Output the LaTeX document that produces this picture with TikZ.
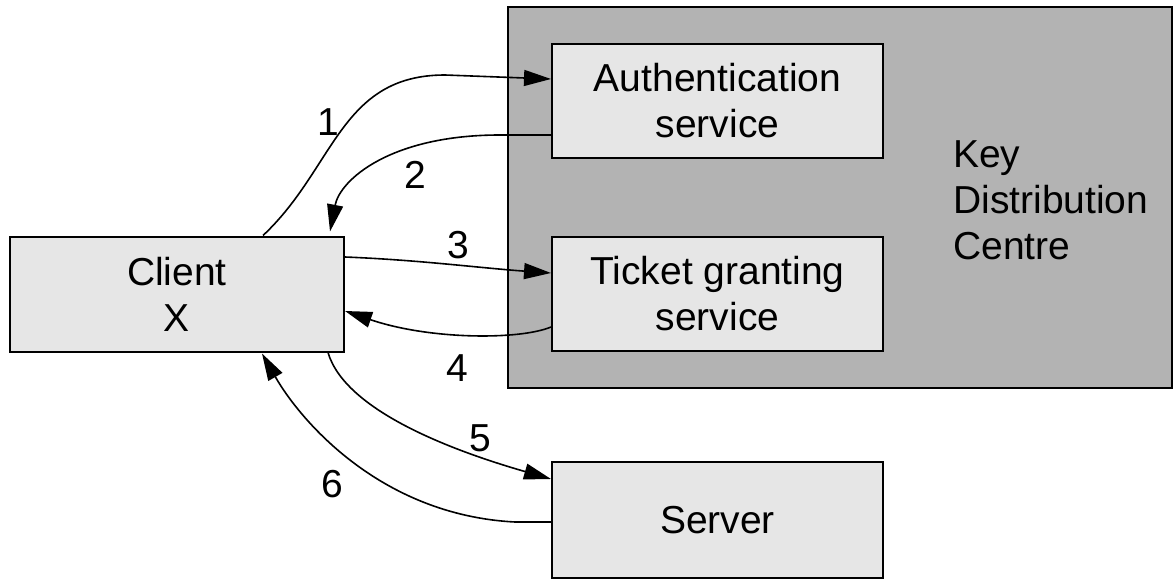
\documentclass[tikz,border=0pt]{standalone}
\usepackage{fontspec}
\setmainfont{Liberation Sans}
\usetikzlibrary{arrows.meta}
\begin{document}
\begin{tikzpicture}[x=1pt,y=-1pt,
  lbl/.style={font=\fontsize{39}{46}\selectfont, align=center, inner sep=0pt},
  svcbox/.style={draw=black, line width=2pt, fill=boxgray, minimum width=331pt, minimum height=114pt, lbl},
  kdcbox/.style={draw=black, line width=2pt, fill=kdcgray},
  msg/.style={draw=black, line width=1.6pt, -{Triangle[length=27pt,width=16pt]}},
  num/.style={font=\fontsize{39}{46}\selectfont, inner sep=0pt}]
\definecolor{boxgray}{RGB}{230,230,230}
\definecolor{kdcgray}{RGB}{179,179,179}
\useasboundingbox (0,0) rectangle (1174,580);

% Key Distribution Centre and its two services
\node[kdcbox, minimum width=664pt, minimum height=381pt] (kdc) at (840,197.5) {};
\node[lbl, align=left, anchor=west] (kdclabel) at (953,200) {Key\\ Distribution\\ Centre};
\node[svcbox] (auth) at (717.5,101) {Authentication\\service};
\node[svcbox] (tgs) at (717.5,294) {Ticket granting\\service};

% Client and server
\node[svcbox, minimum width=334pt, minimum height=115pt] (client) at (177,294) {Client\\X};
\node[svcbox, minimum height=116pt] (server) at (717.5,520) {Server};

% Message exchange
\draw[msg] ([xshift=86pt]client.north) .. controls (335,168) and (340,75) .. (445,75) -- ([yshift=22pt]auth.west);
\draw[msg] ([yshift=-34pt]auth.west) -- (500,135) .. controls (390,135) and (340,180) .. ([xshift=153pt,yshift=4pt]client.north);
\draw[msg] ([yshift=37pt]client.east) .. controls (420,260) and (480,268) .. ([yshift=21pt]tgs.west);
\draw[msg] ([yshift=-33pt]tgs.west) .. controls (520,340) and (430,340) .. ([yshift=-17pt]client.east);
\draw[msg] ([xshift=151pt]client.south) .. controls (345,410) and (450,450) .. ([yshift=41pt]server.west);
\draw[msg] ([yshift=-2pt]server.west) -- (515,522) .. controls (380,515) and (300,420) .. ([xshift=85pt,yshift=-1pt]client.south);

% Step numbers
\node[num] (n1) at (328,122) {1};
\node[num] (n2) at (415,175) {2};
\node[num] (n3) at (458,245) {3};
\node[num] (n4) at (457,368) {4};
\node[num] (n5) at (480,438) {5};
\node[num] (n6) at (332,484) {6};
\end{tikzpicture}
\end{document}
